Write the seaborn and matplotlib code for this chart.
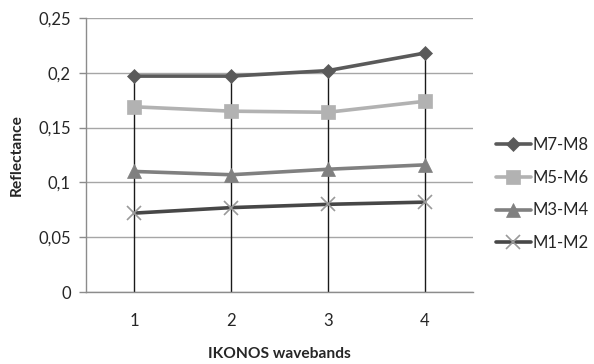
import matplotlib
matplotlib.use("Agg")
import matplotlib.pyplot as plt
import matplotlib.ticker as mticker
import numpy as np
import pandas as pd
import seaborn as sns

bands = [1, 2, 3, 4]
series_names = ["M7-M8", "M5-M6", "M3-M4", "M1-M2"]
m7_m8 = [0.197, 0.197, 0.202, 0.218]
m5_m6 = [0.169, 0.165, 0.164, 0.174]
m3_m4 = [0.110, 0.107, 0.112, 0.116]
m1_m2 = [0.072, 0.077, 0.080, 0.082]
y_ticks = [0, 0.05, 0.1, 0.15, 0.2, 0.25]

values = [m7_m8, m5_m6, m3_m4, m1_m2]
df = pd.DataFrame({
    "band": bands * len(series_names),
    "reflectance": [v for s in values for v in s],
    "series": [n for n in series_names for _ in bands],
})

sns.set_theme(style="white")
plt.rcParams["font.family"] = ["Lato", "DejaVu Sans"]

colors = {"M7-M8": "#5a5a5a", "M5-M6": "#b2b2b2", "M3-M4": "#808080", "M1-M2": "#474747"}
markers = {"M7-M8": "D", "M5-M6": "s", "M3-M4": "^", "M1-M2": "x"}
msizes = {"M7-M8": 7, "M5-M6": 10, "M3-M4": 10, "M1-M2": 10}
mec = {"M7-M8": "#5a5a5a", "M5-M6": "#b2b2b2", "M3-M4": "#808080", "M1-M2": "#9a9a9a"}

fig = plt.figure(figsize=(5.94, 3.64), dpi=100)
ax = fig.add_axes([0.1448, 0.1978, 0.6515, 0.7527])

# drop lines from the highest series down to the axis
tops = np.max(np.array(values), axis=0)
ax.vlines(bands, 0, tops, color="#1a1a1a", lw=1.0, zorder=2)

handles = []
for name in series_names:
    sub = df[df["series"] == name]
    sns.lineplot(data=sub, x="band", y="reflectance", ax=ax, color=colors[name],
                 lw=2.6, marker=markers[name], markersize=msizes[name],
                 markeredgecolor=mec[name], markerfacecolor=colors[name],
                 markeredgewidth=1.2 if name == "M1-M2" else 0.5,
                 zorder=3, legend=False)
    handles.append(ax.lines[-1])

ax.set_xlim(0.5, 4.5)
ax.set_ylim(0, 0.25)
ax.set_xticks(bands)
ax.set_yticks(y_ticks)
ax.yaxis.set_major_formatter(mticker.FuncFormatter(
    lambda v, p: "0" if v == 0 else f"{v:g}".replace(".", ",")))
ax.grid(axis="y", color="#a6a6a6", lw=1.0)
ax.set_axisbelow(True)
for s in ["top", "right"]:
    ax.spines[s].set_visible(False)
for s in ["left", "bottom"]:
    ax.spines[s].set_color("#8c8c8c")
    ax.spines[s].set_linewidth(1.0)
ax.tick_params(axis="y", which="major", length=5, color="#8c8c8c", width=1.0,
               labelsize=12, pad=6, left=True)
ax.tick_params(axis="x", length=0, labelsize=12, pad=15)
ax.set_xlabel("IKONOS wavebands", fontsize=11.2, fontweight="bold", labelpad=13)
ax.set_ylabel("Reflectance", fontsize=11.2, fontweight="bold", labelpad=10)

fig.legend(handles, series_names, loc="center left", bbox_to_anchor=(0.835, 0.467),
           frameon=False, fontsize=12, handlelength=2.1, handletextpad=0.1,
           labelspacing=1.0, borderpad=0, borderaxespad=0)

fig.savefig("out.png", dpi=100)
